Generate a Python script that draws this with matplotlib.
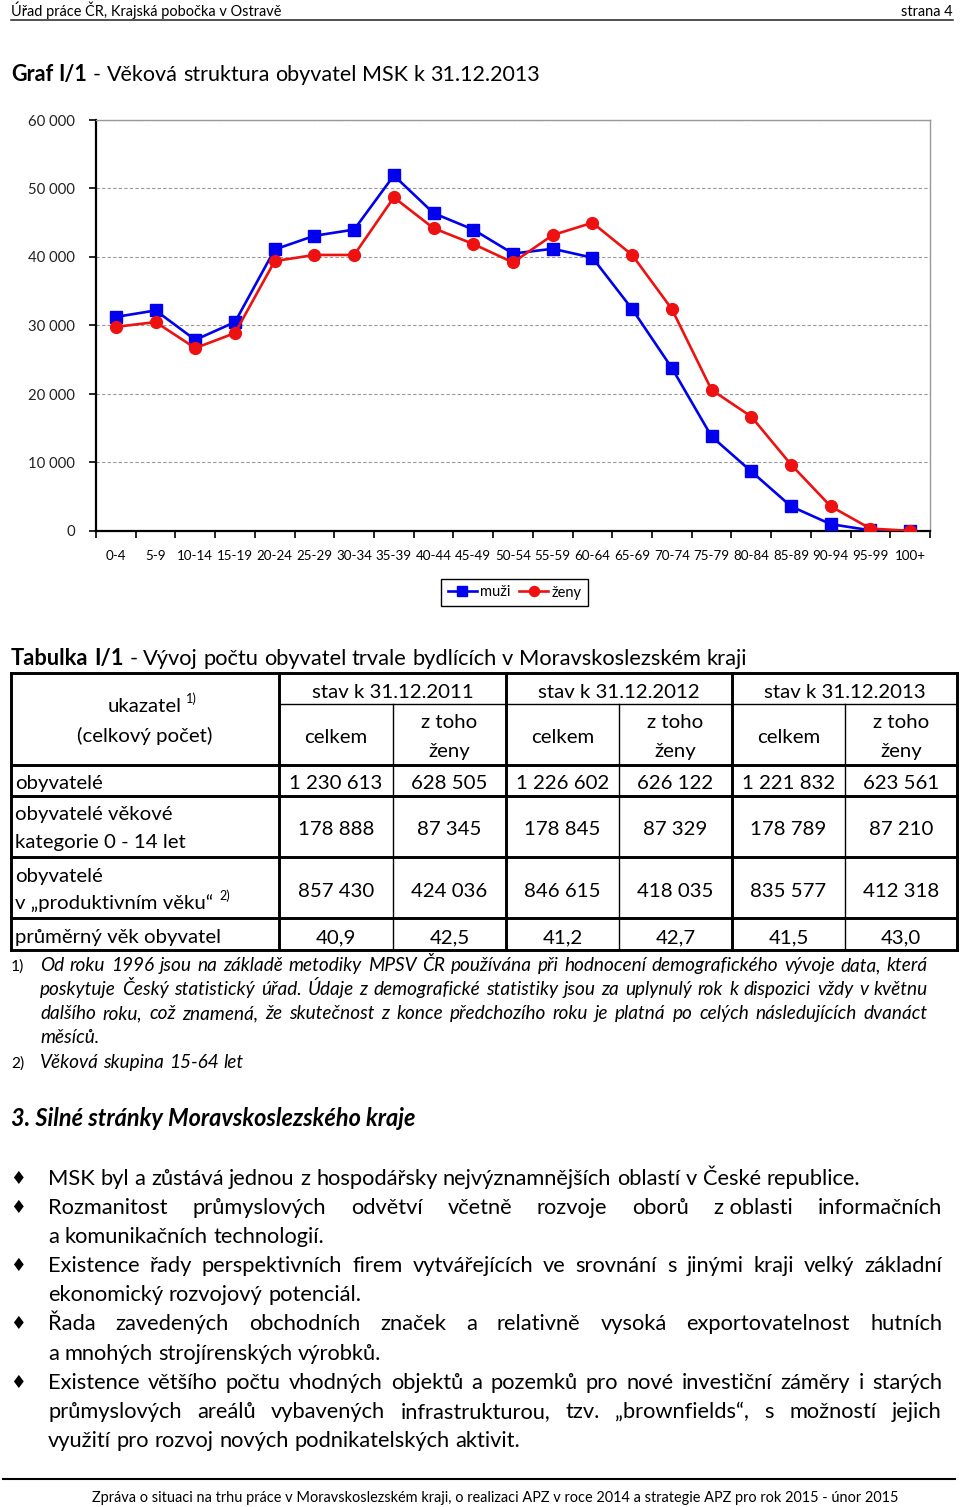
import matplotlib
matplotlib.use("Agg")
import matplotlib.pyplot as plt
import numpy as np

W, H = 960, 1507
FAM = ["Lato", "DejaVu Sans"]
plt.rcParams["font.family"] = FAM

# ---- graf I/1: age structure ----
ages = ["0-4", "5-9", "10-14", "15-19", "20-24", "25-29", "30-34", "35-39", "40-44",
        "45-49", "50-54", "55-59", "60-64", "65-69", "70-74", "75-79", "80-84",
        "85-89", "90-94", "95-99", "100+"]
muzi = [31250, 32200, 27900, 30500, 41100, 43100, 44000, 51900, 46400, 44000, 40500,
        41200, 39900, 32400, 23800, 13800, 8700, 3600, 1000, 100, 10]
zeny = [29800, 30500, 26700, 28900, 39400, 40300, 40300, 48700, 44200, 41900, 39200,
        43200, 45000, 40300, 32400, 20600, 16700, 9700, 3600, 350, 30]
yticks = [0, 10000, 20000, 30000, 40000, 50000, 60000]

# ---- tabulka I/1 ----
years = ["stav k 31.12.2011", "stav k 31.12.2012", "stav k 31.12.2013"]
row_labels = [["obyvatelé"],
              ["obyvatelé věkové", "kategorie 0 - 14 let"],
              ["obyvatelé", "v „produktivním věku“"],
              ["průměrný věk obyvatel"]]
table_vals = [["1 230 613", "628 505", "1 226 602", "626 122", "1 221 832", "623 561"],
              ["178 888", "87 345", "178 845", "87 329", "178 789", "87 210"],
              ["857 430", "424 036", "846 615", "418 035", "835 577", "412 318"],
              ["40,9", "42,5", "41,2", "42,7", "41,5", "43,0"]]

header_left = "Úřad práce ČR, Krajská pobočka v Ostravě"
header_right = "strana 4"
footer = ("Zpráva o situaci na trhu práce v Moravskoslezském kraji, o realizaci APZ "
          "v roce 2014 a strategie APZ pro rok 2015 - únor 2015")
note1 = ["Od roku 1996 jsou na základě metodiky MPSV ČR používána při hodnocení demografického vývoje data, která",
         "poskytuje Český statistický úřad. Údaje z demografické statistiky jsou za uplynulý rok k dispozici vždy v květnu",
         "dalšího roku, což znamená, že skutečnost z konce předchozího roku je platná po celých následujících dvanáct",
         "měsíců."]
note2 = "Věková skupina 15-64 let"
heading = "3. Silné stránky Moravskoslezského kraje"
# "\u00a0" keeps "z oblasti" together as in the original
bullets = [
    ["MSK byl a zůstává jednou z hospodářsky nejvýznamnějších oblastí v České republice."],
    ["Rozmanitost průmyslových odvětví včetně rozvoje oborů z\u00a0oblasti informačních",
     "a komunikačních technologií."],
    ["Existence řady perspektivních firem vytvářejících ve srovnání s jinými kraji velký základní",
     "ekonomický rozvojový potenciál."],
    ["Řada zavedených obchodních značek a relativně vysoká exportovatelnost hutních",
     "a mnohých strojírenských výrobků."],
    ["Existence většího počtu vhodných objektů a pozemků pro nové investiční záměry i starých",
     "průmyslových areálů vybavených infrastrukturou, tzv. „brownfields“, s možností jejich",
     "využití pro rozvoj nových podnikatelských aktivit."],
]

fig = plt.figure(figsize=(W / 100, H / 100), dpi=100)
pg = fig.add_axes([0, 0, 1, 1])
pg.set_xlim(0, W); pg.set_ylim(H, 0); pg.axis("off")
R = fig.canvas.get_renderer()


def text_w(s, size, **kw):
    t = pg.text(0, 0, s, fontsize=size, **kw)
    w = t.get_window_extent(renderer=R).width
    t.remove()
    return w


def fit(s, target, **kw):
    return 20 * target / text_w(s, 20, **kw)


def put_words(x0, y, words, size, x1=None, **kw):
    items = [(w, {}) if isinstance(w, str) else w for w in words]
    ws = [text_w(w, size, **{**kw, **k}) for w, k in items]
    sp = text_w("n n", size, **kw) - text_w("nn", size, **kw)
    gap = (x1 - x0 - sum(ws)) / (len(ws) - 1) if (x1 is not None and len(ws) > 1) else sp
    x = x0
    for (w, k), wd in zip(items, ws):
        pg.text(x, y, w, fontsize=size, ha="left", va="baseline", **{**kw, **k})
        x += wd + gap
    return x - gap


# ---- page header ----
hs = fit(header_left, 270)
pg.text(11, 16, header_left, fontsize=hs, va="baseline")
pg.text(953, 16, header_right, fontsize=hs, va="baseline", ha="right")
pg.plot([11, 953], [19.5, 19.5], color="#222222", lw=1.1)

# ---- chart title ----
ttl = "- Věková struktura obyvatel MSK k 31.12.2013"
tsz = fit(ttl, 447)
bold = {"weight": "bold"}
put_words(11, 81, [("Graf", bold), ("I/1", bold)] + ttl.split(" "), tsz)

# ---- chart ----
ax = fig.add_axes([96 / W, 1 - 531 / H, 834 / W, 411 / H])
x = np.arange(len(ages))
ax.plot(x, muzi, color="#0000ee", lw=1.9, marker="s", ms=9, label="muži", zorder=3)
ax.plot(x, zeny, color="#ee1111", lw=1.9, marker="o", ms=8.5, label="ženy", zorder=4)
ax.set_xlim(-0.5, len(ages) - 0.5)
ax.set_ylim(0, 60000)
ax.set_xticks(np.arange(-0.5, len(ages), 1))
ax.set_xticklabels([])
ax.set_xticks(x, minor=True)
ax.set_xticklabels(ages, minor=True, fontsize=fit("10-14", 36))
ax.tick_params(axis="x", which="major", length=5, width=1.2, direction="out")
ax.tick_params(axis="x", which="minor", length=0, pad=14)
ax.set_yticks(yticks)
ax.set_yticklabels([f"{v:,}".replace(",", " ") for v in yticks],
                   fontsize=fit("60 000", 47), color="#222222")
ax.tick_params(axis="y", length=5, width=1.2, pad=10)
ax.grid(axis="y", ls=(0, (3, 2)), color="#999999", lw=0.8)
ax.set_axisbelow(True)
for s in ("left", "bottom"):
    ax.spines[s].set_linewidth(1.6)
for s in ("top", "right"):
    ax.spines[s].set_color("#999999")
    ax.spines[s].set_linewidth(1.0)
h, l = ax.get_legend_handles_labels()
leg = fig.legend(h, l, loc="center", bbox_to_anchor=(514.5 / W, 1 - 592.5 / H), ncol=2,
                 fancybox=False, edgecolor="black", framealpha=1, fontsize=10.5,
                 handlelength=2.0, columnspacing=0.6, handletextpad=0.2,
                 borderpad=0.45, markerscale=0.85)
leg.get_frame().set_linewidth(1.0)

# ---- table title ----
tt = "- Vývoj počtu obyvatel trvale bydlících v Moravskoslezském kraji"
tts = fit(tt, 621)
put_words(11, 665, [("Tabulka", bold), ("I/1", bold)] + tt.split(" "), tts)

# ---- table ----
cols = [11, 279, 393, 506, 619, 732, 845, 957]
thick, thin = 2.1, 1.0
for yy in [673, 765, 796, 857, 918, 950]:
    pg.plot([11, 957], [yy, yy], color="black", lw=thick, solid_capstyle="projecting")
pg.plot([279, 957], [704, 704], color="black", lw=thin)
for xx in [11, 279, 506, 732, 957]:
    pg.plot([xx, xx], [673, 950], color="black", lw=thick, solid_capstyle="projecting")
for xx in [393, 619, 845]:
    pg.plot([xx, xx], [704, 950], color="black", lw=thin)

cs = fit("1 230 613", 93)
centers = [(cols[i] + cols[i + 1]) / 2 for i in range(1, 7)]
t_kw = dict(fontsize=cs, ha="center", va="baseline")
pg.text(145, 712, "ukazatel", **t_kw)
uw = text_w("ukazatel", cs)
pg.text(145 + uw / 2 + 4, 703, "1)", fontsize=cs * 0.62, ha="left", va="baseline")
pg.text(145, 742, "(celkový počet)", **t_kw)
for i, yr in enumerate(years):
    pg.text((cols[1 + 2 * i] + cols[3 + 2 * i]) / 2, 698, yr, **t_kw)
    pg.text(centers[2 * i], 743, "celkem", **t_kw)
    pg.text(centers[2 * i + 1], 728, "z toho", **t_kw)
    pg.text(centers[2 * i + 1], 757, "ženy", **t_kw)

label_base = [[789], [820, 848], [882, 909], [943]]
value_base = [789, 835, 897, 943]
for r, labs in enumerate(row_labels):
    for lab, yb in zip(labs, label_base[r]):
        pg.text(15, yb, lab, fontsize=cs, ha="left", va="baseline")
    for c, v in enumerate(table_vals[r]):
        pg.text(centers[c], value_base[r], v, **t_kw)
pw = text_w(row_labels[2][1], cs)
pg.text(15 + pw + 6, 900, "2)", fontsize=cs * 0.62, ha="left", va="baseline")

# ---- footnotes ----
it = {"style": "italic"}
fs = fit(note2, 203, **it)
nb = [971, 995, 1019, 1043]
pg.text(11, nb[0], "1)", fontsize=fs * 0.82, va="baseline")
for i, ln in enumerate(note1):
    put_words(40, nb[i], ln.split(" "), fs, x1=928 if i < 3 else None, **it)
pg.text(11, 1068, "2)", fontsize=fs * 0.82, va="baseline")
put_words(40, 1068, note2.split(" "), fs, **it)

# ---- heading ----
hsz = fit(heading, 405, weight="bold", style="italic")
pg.text(11, 1126, heading, fontsize=hsz, weight="bold", style="italic", va="baseline")

# ---- bullet list ----
bs = fit(bullets[0][0], 816)
yb = 1185
step = 29.1
for item in bullets:
    pg.text(18, yb - 6, "♦", fontsize=bs * 0.8, family="DejaVu Sans",
            ha="center", va="center")
    for j, ln in enumerate(item):
        last = j == len(item) - 1
        put_words(48, yb, ln.split(" "), bs, x1=None if last else 942)
        yb += step

# ---- page footer ----
pg.plot([3, 955], [1479, 1479], color="black", lw=1.5)
pg.text(495, 1502, footer, fontsize=fit(footer, 806), ha="center", va="baseline")

fig.savefig("out.png", dpi=100, facecolor="white")
